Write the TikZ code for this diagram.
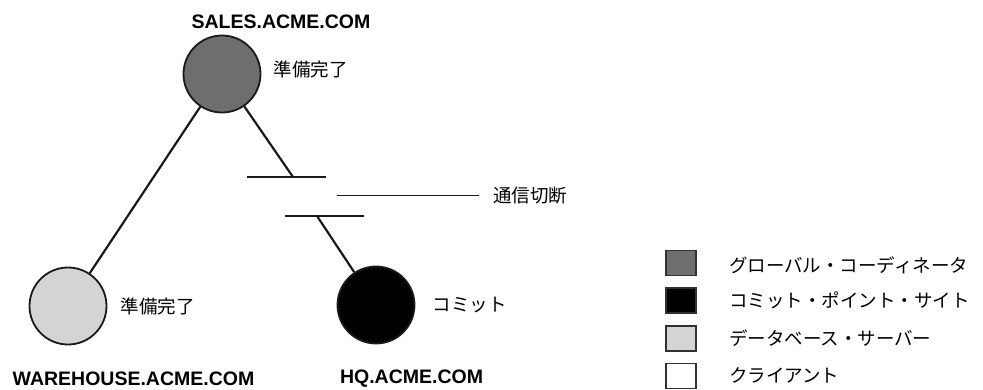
\documentclass[tikz,border=0pt]{standalone}
\usepackage{fontspec}
\usepackage{xcolor}
\usepackage{tikz}
\usetikzlibrary{positioning}
\newfontfamily\hostfont{Liberation Sans}
\newfontfamily\jpfont{Noto Sans CJK JP}
\definecolor{DB_COORD}{HTML}{6E6E6E}
\definecolor{DB_SERVER}{HTML}{D4D4D4}
\definecolor{DB_COMMIT}{HTML}{000000}
\definecolor{DB_CLIENT}{HTML}{FFFFFF}
\definecolor{DB_EDGE}{HTML}{1A1A1A}
\tikzset{
  site/.style={
    circle, inner sep=0pt, minimum size=77pt,
    draw=DB_EDGE, line width=1.8pt},
  host/.style={
    inner sep=0pt, font=\hostfont\bfseries\fontsize{19.5}{22}\selectfont},
  lbl/.style={
    inner sep=2pt, font=\jpfont\fontsize{18.5}{22}\selectfont},
  link/.style={line width=2.2pt, color=DB_EDGE},
  bar/.style={line width=2.8pt, color=DB_EDGE},
  pointer/.style={line width=1pt, color=DB_EDGE},
  legbox/.style={
    rectangle, inner sep=0pt,
    minimum width=30pt, minimum height=25pt,
    draw=DB_EDGE!90, line width=1.6pt},
}
\begin{document}
\begin{tikzpicture}[x=1pt, y=-1pt]
  \useasboundingbox (0,0) rectangle (983,389);

  % sites
  \node[site, fill=DB_COORD]  (sales) at (222,74)  {};
  \node[site, fill=DB_SERVER] (wh)    at (68,306)  {};
  \node[site, fill=DB_COMMIT] (hq)    at (376,305) {};

  \node[host] (salesname) at (281,22)    {SALES.ACME.COM};
  \node[host] (whname)    at (133.5,379) {WAREHOUSE.ACME.COM};
  \node[host] (hqname)    at (411.5,379) {HQ.ACME.COM};

  \node[lbl, right=10pt of sales, yshift=5pt] (salesst) {準備完了};
  \node[lbl, right=11pt of wh]                (whst)    {準備完了};
  \node[lbl, right=15pt of hq]                (hqst)    {コミット};

  % broken link
  \coordinate (brkA) at (293,177);
  \coordinate (brkB) at (317,216);
  \draw[bar] (247,177) -- (326,177);
  \draw[bar] (285,216) -- (364,216);

  \draw[link] (sales) -- (wh);
  \draw[link] (sales) -- (brkA);
  \draw[link] (brkB)  -- (hq);

  \node[lbl, anchor=west] (cut) at (491,196) {通信切断};
  \coordinate (cutend) at (337,195);
  \draw[pointer] (cutend) -- ([xshift=-12pt]cutend -| cut.west);

  % legend
  \node[legbox, fill=DB_COORD] (lg1) at (681,263) {};
  \node[legbox, fill=DB_COMMIT, below=11pt of lg1] (lg2) {};
  \node[legbox, fill=DB_SERVER, below=11pt of lg2] (lg3) {};
  \node[legbox, fill=DB_CLIENT, below=11pt of lg3] (lg4) {};

  \node[lbl, right=30pt of lg1, yshift=-2pt] (lt1) {グローバル・コーディネータ};
  \node[lbl, right=30pt of lg2] (lt2) {コミット・ポイント・サイト};
  \node[lbl, right=30pt of lg3] (lt3) {データベース・サーバー};
  \node[lbl, right=30pt of lg4] (lt4) {クライアント};

\end{tikzpicture}
\end{document}
